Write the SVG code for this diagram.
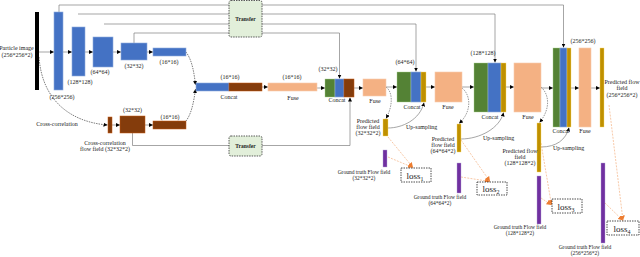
<svg xmlns="http://www.w3.org/2000/svg" width="640" height="257" viewBox="0 0 640 257">
<style>
.blue{fill:#4472c4;stroke:#8fabdc;stroke-width:.6}
.brown{fill:#843c0c;stroke:#c55a11;stroke-width:.5}
.green{fill:#548235;stroke:#a9d18e;stroke-width:.4}
.fuse{fill:#f4b183;stroke:#f8cbad;stroke-width:.6}
.yel{fill:#bf9000;stroke:#ffd966;stroke-width:.4}
.pur{fill:#7030a0;stroke:#b4a7d6;stroke-width:.4}
.tr{fill:#e2efda;stroke:#333;stroke-width:.8;stroke-dasharray:1.5 1}
.loss{fill:#fff;stroke:#222;stroke-width:.8;stroke-dasharray:1.5 1}
.gl{fill:none;stroke:#808080;stroke-width:.7}
.dl{fill:none;stroke:#555;stroke-width:.6;stroke-dasharray:1.5 1}
.kl{fill:none;stroke:#222;stroke-width:.6;stroke-dasharray:1.5 1}
.ol{fill:none;stroke:#f4b183;stroke-width:.7;stroke-dasharray:2 1.2}
text{font-family:"Liberation Serif","Times New Roman",serif;font-size:6px;fill:#222;text-anchor:middle}
.sm{font-size:5.5px}
.lt{font-size:9px}
.b{font-weight:bold;font-size:5.5px}
</style>
<defs>
<marker id="ah" viewBox="0 0 10 10" refX="10" refY="5" markerWidth="4" markerHeight="4" markerUnits="userSpaceOnUse" orient="auto"><path d="M0,0L10,5L0,10z" fill="#000"/></marker>
<marker id="ao" viewBox="0 0 10 10" refX="10" refY="5" markerWidth="5" markerHeight="5" markerUnits="userSpaceOnUse" orient="auto"><path d="M0,0L10,5L0,10z" fill="#ed7d31"/></marker>
</defs>

<g id="connectors">
<!-- skip connections -->
<path class="gl" d="M59,12V5H563.5V47.5" marker-end="url(#ah)"/>
<path class="gl" d="M78,14H495V62.5" marker-end="url(#ah)"/>
<path class="gl" d="M104,24H416V71.5" marker-end="url(#ah)"/>
<path class="gl" d="M134,43V33H339.5V78.5" marker-end="url(#ah)"/>
<path class="gl" d="M132.5,133V145.5H350V97.5" marker-end="url(#ah)"/>
<!-- encoder arrows -->
<path class="gl" d="M39,52H54" marker-end="url(#ah)"/>
<path class="gl" d="M63,52H72" marker-end="url(#ah)"/>
<path class="gl" d="M85,52H93" marker-end="url(#ah)"/>
<path class="gl" d="M113,52H121" marker-end="url(#ah)"/>
<path class="gl" d="M147,52H153" marker-end="url(#ah)"/>
<!-- cross-correlation branch -->
<path class="kl" d="M39,57C42,100 70,122 107.5,125" marker-end="url(#ah)"/>
<path class="gl" d="M112,125H120" marker-end="url(#ah)"/>
<path class="gl" d="M145,125H153" marker-end="url(#ah)"/>
<path class="kl" d="M186,52C192,60 194,72 195.5,85" marker-end="url(#ah)"/>
<path class="kl" d="M186,121C192,113 194,100 195.5,89" marker-end="url(#ah)"/>
<!-- main path -->
<path class="gl" d="M262,87H268" marker-end="url(#ah)"/>
<path class="gl" d="M317,88H325" marker-end="url(#ah)"/>
<path class="gl" d="M354,88H363" marker-end="url(#ah)"/>
<path class="gl" d="M386,87H397" marker-end="url(#ah)"/>
<path class="gl" d="M426,87H435" marker-end="url(#ah)"/>
<path class="gl" d="M462,87H474" marker-end="url(#ah)"/>
<path class="gl" d="M506,87H514" marker-end="url(#ah)"/>
<path class="gl" d="M541,88H553" marker-end="url(#ah)"/>
<path class="gl" d="M571,88H579" marker-end="url(#ah)"/>
<path class="gl" d="M591,88H600" marker-end="url(#ah)"/>
<!-- fuse to predictions -->
<path class="dl" d="M386,87C393,92 393,106 386,118.5" marker-end="url(#ah)"/>
<path class="dl" d="M462,88C471,95 472,112 459,123.5" marker-end="url(#ah)"/>
<path class="dl" d="M541,87C550,95 550,110 539.5,122.5" marker-end="url(#ah)"/>
<!-- up-sampling -->
<path class="gl" d="M388,128C402,128 420,120 424,102.5" marker-end="url(#ah)"/>
<path class="gl" d="M461,139C480,139 500,128 503.5,112.5" marker-end="url(#ah)"/>
<path class="gl" d="M541,147C556,147 566,140 569,127.5" marker-end="url(#ah)"/>
<!-- loss lines -->
<path class="ol" d="M388,137L413,167.5" marker-end="url(#ao)"/>
<path class="ol" d="M388,157L413,167.5" marker-end="url(#ao)"/>
<path class="ol" d="M461,140L490,181.5" marker-end="url(#ao)"/>
<path class="ol" d="M461,177L490,181.5" marker-end="url(#ao)"/>
<path class="ol" d="M541,143L551.5,205" marker-end="url(#ao)"/>
<path class="ol" d="M541,198L551.5,205" marker-end="url(#ao)"/>
<path class="ol" d="M609,105L623,220.5" marker-end="url(#ao)"/>
<path class="ol" d="M605,203L623,220.5" marker-end="url(#ao)"/>
</g>

<g id="transfer-top"><rect class="tr" x="229" y="0.5" width="33" height="36.5" rx="2"/><text class="b" x="245.5" y="20.5">Transfer</text></g>
<g id="transfer-bottom"><rect class="tr" x="229" y="136" width="33" height="20" rx="2"/><text class="b" x="245.5" y="148">Transfer</text></g>

<g id="particle-image"><rect x="35" y="12" width="4" height="78" fill="#000"/><text x="16.5" y="50">Particle image</text><text x="17" y="57">(256*256*2)</text></g>
<g id="enc256"><rect class="blue" x="54" y="12" width="9" height="78"/><text x="62" y="99">(256*256)</text></g>
<g id="enc128"><rect class="blue" x="72" y="27" width="13" height="49"/><text x="80" y="84">(128*128)</text></g>
<g id="enc64"><rect class="blue" x="93" y="37" width="20" height="30"/><text x="100" y="74">(64*64)</text></g>
<g id="enc32"><rect class="blue" x="121" y="43" width="26" height="17"/><text x="134" y="68">(32*32)</text></g>
<g id="enc16"><rect class="blue" x="153" y="48" width="33" height="8"/><text x="169" y="64">(16*16)</text></g>

<g id="cross-correlation"><rect class="brown" x="108" y="117" width="4" height="16"/><text x="57" y="126">Cross-correlation</text><text x="105" y="145">Cross-correlation</text><text x="105" y="151">flow field  (32*32*2)</text></g>
<g id="cc32"><rect class="brown" x="120" y="116" width="25" height="17"/><text x="132.5" y="112">(32*32)</text></g>
<g id="cc16"><rect class="brown" x="153" y="121" width="33" height="8"/><text x="170" y="119">(16*16)</text></g>

<g id="concat16"><rect class="blue" x="196" y="83" width="33" height="8"/><rect class="brown" x="229" y="83" width="33" height="8"/><text x="230" y="79">(16*16)</text><text x="229" y="99">Concat</text></g>
<g id="fuse16"><rect class="fuse" x="268" y="83" width="49" height="8"/><text x="292" y="79">(16*16)</text><text x="293" y="100">Fuse</text></g>
<g id="concat32"><rect class="green" x="325" y="79" width="10" height="18"/><rect class="blue" x="335" y="79" width="9" height="18"/><rect class="brown" x="344" y="79" width="10" height="18"/><text x="328" y="71">(32*32)</text><text x="337" y="102">Concat</text></g>
<g id="fuse32"><rect class="fuse" x="363" y="79" width="23" height="17"/><text x="375" y="103">Fuse</text></g>
<g id="concat64"><rect class="green" x="397" y="72" width="14" height="30"/><rect class="blue" x="411" y="72" width="10" height="30"/><rect class="yel" x="421" y="72" width="5" height="30"/><text x="405" y="64">(64*64)</text><text x="412" y="109">Concat</text></g>
<g id="fuse64"><rect class="fuse" x="435" y="72" width="27" height="30"/><text x="448" y="109">Fuse</text></g>
<g id="concat128"><rect class="green" x="474" y="63" width="14" height="49"/><rect class="blue" x="488" y="63" width="13" height="49"/><rect class="yel" x="501" y="63" width="5" height="49"/><text x="483" y="55">(128*128)</text><text x="490" y="119">Concat</text></g>
<g id="fuse128"><rect class="fuse" x="514" y="63" width="27" height="49"/><text x="528" y="119">Fuse</text></g>
<g id="concat256"><rect class="green" x="553" y="48" width="7" height="79"/><rect class="blue" x="560" y="48" width="7" height="79"/><rect class="yel" x="567" y="48" width="4" height="79"/><text x="583" y="43">(256*256)</text><text x="561" y="133">Concat</text></g>
<g id="fuse256"><rect class="fuse" x="579" y="48" width="12" height="79"/><text x="585" y="133">Fuse</text></g>
<g id="pred256"><rect class="yel" x="600" y="48" width="4" height="79"/><text x="622" y="84">Predicted flow</text><text x="622" y="90">field</text><text x="622" y="97">(256*256*2)</text></g>

<g id="pred32"><rect class="yel" x="383" y="119" width="5" height="17"/><text x="368" y="123">Predicted</text><text x="368" y="129">flow field</text><text x="368" y="135">(32*32*2)</text></g>
<g id="up32"><text x="406" y="129" style="text-anchor:start">Up-sampling</text></g>
<g id="gt32"><rect class="pur" x="383" y="150" width="4" height="17"/><text class="sm" x="364" y="174">Ground truth Flow field</text><text class="sm" x="364" y="180">(32*32*2)</text></g>
<g id="loss1"><rect class="loss" x="401" y="168" width="30" height="14"/><text class="lt" x="415" y="178.5">loss<tspan font-size="6" dy="2">1</tspan></text></g>

<g id="pred64"><rect class="yel" x="457" y="124" width="4" height="28"/><text x="443" y="141">Predicted</text><text x="443" y="147">flow field</text><text x="443" y="153">(64*64*2)</text></g>
<g id="up64"><text x="483" y="140" style="text-anchor:start">Up-sampling</text></g>
<g id="gt64"><rect class="pur" x="457" y="163" width="4" height="30"/><text class="sm" x="440" y="199">Ground truth Flow field</text><text class="sm" x="440" y="205">(64*64*2)</text></g>
<g id="loss2"><rect class="loss" x="477" y="182" width="30" height="13"/><text class="lt" x="491" y="192">loss<tspan font-size="6" dy="2">2</tspan></text></g>

<g id="pred128"><rect class="yel" x="537" y="123" width="4" height="49"/><text x="520" y="153">Predicted flow</text><text x="520" y="159">field</text><text x="520" y="165">(128*128*2)</text></g>
<g id="up128"><text x="553" y="150" style="text-anchor:start">Up-sampling</text></g>
<g id="gt128"><rect class="pur" x="537" y="176" width="4" height="48"/><text class="sm" x="520" y="229">Ground truth Flow field</text><text class="sm" x="520" y="235">(128*128*2)</text></g>
<g id="loss3"><rect class="loss" x="552" y="199" width="30" height="14"/><text class="lt" x="566" y="209.5">loss<tspan font-size="6" dy="2">3</tspan></text></g>

<g id="gt256"><rect class="pur" x="601" y="163" width="4" height="80"/><text class="sm" x="585" y="249">Ground truth Flow field</text><text class="sm" x="585" y="255">(256*256*2)</text></g>
<g id="loss4"><rect class="loss" x="607" y="221" width="32" height="14"/><text class="lt" x="622" y="231.5">loss<tspan font-size="6" dy="2">4</tspan></text></g>
</svg>
